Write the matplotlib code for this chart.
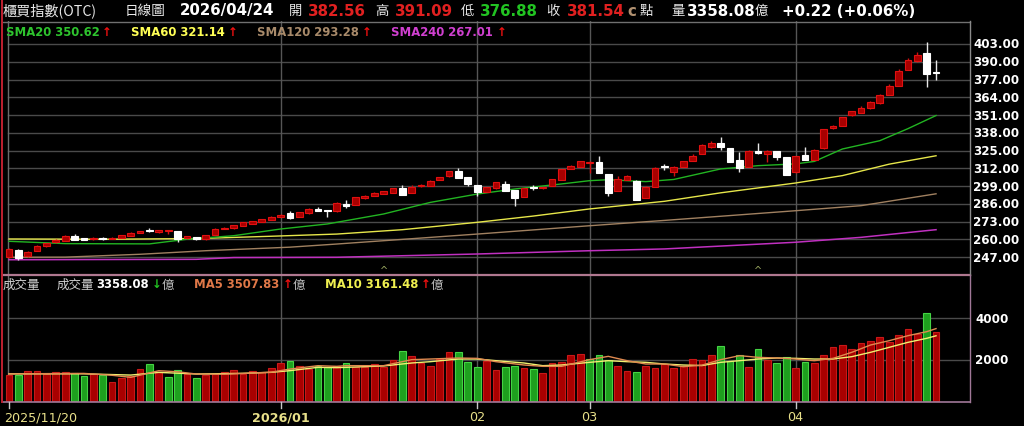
import matplotlib
matplotlib.use("Agg")
import matplotlib.pyplot as plt
import numpy as np

# ---------------- data ----------------
month_ticks = [0, 29, 50, 62, 84]
month_labels = ["2025/11/20", "2026/01", "02", "03", "04"]

opens = [246.8, 252.1, 247.5, 251.6, 254.8, 257.8, 259.0, 262.2, 260.2, 259.9,
         260.9, 260.3, 261.0, 262.6, 264.7, 266.3, 265.0, 265.7, 265.8, 260.6,
         261.5, 260.0, 263.1, 267.6, 268.0, 270.0, 271.5, 272.7, 274.3, 276.5,
         279.0, 276.3, 279.0, 282.0, 281.0, 280.5, 285.5, 285.3, 290.0, 292.0,
         293.1, 293.9, 297.5, 294.0, 298.7, 299.2, 303.6, 306.1, 309.8, 305.4,
         299.7, 294.9, 297.3, 300.5, 296.1, 291.2, 297.8, 297.2, 299.2, 303.6,
         311.5, 313.1, 316.0, 316.8, 307.8, 295.6, 303.5, 302.9, 290.2, 298.5,
         313.0, 309.5, 313.1, 317.5, 322.4, 327.3, 330.3, 326.8, 318.0, 313.1,
         324.0, 322.4, 324.4, 320.0, 309.0, 321.7, 318.3, 326.6, 341.3, 343.2,
         350.9, 352.5, 355.9, 359.6, 365.9, 372.5, 384.0, 390.3, 396.2, 382.56]
closes = [252.9, 246.1, 250.9, 255.3, 257.0, 259.5, 262.6, 259.7, 259.7, 260.8,
          260.2, 261.2, 263.0, 264.6, 266.0, 265.8, 266.5, 266.1, 260.2, 262.2,
          260.0, 263.0, 267.5, 268.6, 270.4, 272.3, 273.3, 274.8, 276.5, 278.0,
          275.4, 280.0, 282.2, 281.0, 280.5, 286.8, 284.3, 290.7, 292.0, 294.0,
          295.3, 297.5, 292.4, 298.5, 300.0, 302.9, 305.6, 310.0, 304.9, 300.5,
          294.4, 298.3, 301.7, 295.7, 290.2, 297.5, 297.2, 297.9, 304.1, 311.5,
          313.9, 317.3, 316.5, 308.5, 293.7, 304.1, 306.0, 288.7, 298.0, 312.5,
          312.7, 313.1, 317.0, 321.2, 329.3, 330.3, 327.3, 316.8, 312.4, 324.9,
          323.5, 324.8, 320.0, 307.3, 320.8, 318.0, 325.6, 340.7, 343.2, 349.3,
          353.6, 356.4, 360.3, 365.9, 372.5, 383.5, 391.5, 394.9, 381.32, 381.54]
highs = [253.5, 252.8, 251.3, 255.8, 257.4, 259.9, 263.0, 263.8, 261.0, 261.3,
         261.5, 261.6, 263.3, 265.0, 266.4, 268.0, 266.8, 266.6, 266.3, 262.6,
         262.0, 263.3, 267.9, 269.0, 270.8, 272.6, 273.6, 275.1, 276.8, 278.4,
         280.9, 280.3, 282.6, 283.4, 281.3, 287.2, 289.0, 291.0, 292.3, 294.3,
         295.6, 297.8, 299.7, 300.0, 300.3, 303.2, 305.9, 310.3, 312.2, 305.7,
         300.0, 298.6, 302.0, 302.9, 296.4, 297.8, 299.5, 298.2, 304.4, 311.8,
         314.2, 317.6, 317.0, 321.2, 308.1, 306.3, 307.2, 303.2, 299.0, 313.0,
         315.0, 313.4, 317.3, 322.2, 329.6, 332.2, 334.7, 327.1, 324.1, 325.2,
         330.5, 325.1, 324.7, 320.3, 321.1, 327.3, 325.9, 341.0, 343.5, 349.6,
         353.9, 357.5, 361.5, 366.2, 374.0, 385.0, 392.5, 397.5, 404.7, 391.09]
lows = [246.0, 245.0, 247.0, 251.2, 254.5, 257.5, 258.7, 259.4, 259.2, 259.6,
        259.8, 260.0, 260.7, 262.3, 264.4, 265.5, 264.8, 263.8, 257.8, 260.3,
        259.5, 259.8, 262.9, 267.3, 267.8, 269.8, 271.3, 272.5, 274.0, 276.2,
        275.1, 276.0, 278.8, 280.6, 276.5, 280.2, 282.7, 285.0, 289.7, 291.7,
        292.8, 293.6, 292.1, 293.7, 298.4, 299.0, 303.3, 305.8, 304.6, 299.2,
        292.0, 294.6, 297.0, 295.4, 284.6, 290.9, 296.0, 296.9, 298.9, 303.3,
        311.2, 312.8, 308.5, 308.2, 291.5, 295.3, 303.2, 288.4, 289.9, 298.2,
        311.0, 306.6, 312.8, 317.2, 322.1, 327.0, 325.4, 316.5, 309.5, 312.8,
        322.5, 316.8, 318.0, 307.0, 308.7, 317.7, 318.0, 326.3, 341.0, 342.9,
        350.6, 352.2, 355.6, 359.3, 365.6, 372.2, 383.7, 390.0, 371.7, 376.88]

volumes = [1263, 1263, 1473, 1440, 1311, 1424, 1424, 1344, 1199, 1311,
           1263, 940, 1118, 1199, 1553, 1779, 1424, 1166, 1505, 1311,
           1102, 1263, 1311, 1424, 1505, 1311, 1473, 1424, 1586, 1844,
           1940, 1682, 1553, 1714, 1634, 1682, 1828, 1666, 1666, 1795,
           1666, 2005, 2424, 2199, 1860, 1715, 2037, 2392, 2392, 1876,
           1634, 1956, 1521, 1666, 1715, 1602, 1553, 1376, 1860, 1892,
           2231, 2263, 2021, 2215, 2005, 1698, 1456, 1392, 1682, 1618,
           1795, 1602, 1682, 2021, 2005, 2231, 2667, 1940, 2215, 1666,
           2505, 2005, 1828, 2134, 1602, 1908, 1844, 2231, 2602, 2731,
           2505, 2796, 2908, 3102, 2844, 3183, 3506, 3247, 4262, 3358.08]
vol_up = [1, 0, 1, 1, 1, 1, 1, 0, 0, 1,
          0, 1, 1, 1, 1, 0, 1, 0, 0, 1,
          0, 1, 1, 1, 1, 1, 1, 1, 1, 1,
          0, 1, 1, 0, 0, 1, 0, 1, 1, 1,
          1, 1, 0, 1, 1, 1, 1, 1, 0, 0,
          0, 1, 1, 0, 0, 1, 0, 1, 1, 1,
          1, 1, 0, 0, 0, 1, 1, 0, 1, 1,
          1, 1, 1, 1, 1, 1, 0, 0, 0, 1,
          0, 1, 0, 0, 1, 0, 1, 1, 1, 1,
          1, 1, 1, 1, 1, 1, 1, 1, 0, 1]

sma20_idx = [0, 6, 15, 19, 24, 29, 34, 40, 45, 50, 54, 59, 62, 64, 68, 71, 76, 80, 84, 86, 89, 93, 96, 99]
sma20_val = [258.5, 256.8, 256.6, 260.0, 262.6, 267.5, 271.2, 278.5, 287.0, 293.1, 296.8, 300.5,
             302.9, 303.6, 302.2, 303.8, 311.5, 313.9, 315.2, 317.0, 326.1, 332.2, 341.0, 350.62]
sma60_idx = [0, 10, 20, 28, 35, 42, 50, 56, 62, 70, 76, 84, 89, 94, 99]
sma60_val = [260.2, 260.0, 260.5, 262.2, 263.8, 267.0, 272.4, 277.0, 282.2, 287.8, 294.0, 301.2, 306.6, 315.0, 321.14]
sma120_idx = [0, 6, 14, 21, 30, 35, 50, 62, 70, 84, 91, 99]
sma120_val = [246.8, 246.9, 249.0, 251.6, 254.2, 256.5, 263.8, 269.9, 273.8, 280.9, 284.6, 293.28]
sma240_idx = [0, 20, 24, 35, 50, 62, 70, 84, 91, 99]
sma240_val = [245.0, 245.3, 246.6, 246.8, 249.2, 251.6, 252.9, 257.8, 261.4, 267.01]

vma5_idx = [0, 4, 8, 11, 13, 16, 18, 20, 23, 25, 28, 30, 33, 35, 36, 40, 43, 45, 48, 50, 52, 55, 57, 59,
            62, 64, 66, 68, 70, 72, 74, 76, 78, 80, 82, 84, 86, 88, 90, 92, 94, 96, 98, 99]
vma5_val = [1310, 1330, 1340, 1250, 1150, 1470, 1420, 1310, 1300, 1340, 1400, 1550, 1714, 1682, 1715, 1715,
            2005, 2037, 2085, 2069, 1908, 1747, 1682, 1682, 2005, 2166, 1956, 1795, 1795, 1666, 1740, 2005,
            2199, 2118, 2085, 2037, 1956, 2069, 2360, 2715, 2925, 3166, 3360, 3507.83]
vma10_idx = [0, 8, 13, 16, 20, 25, 28, 30, 33, 35, 40, 43, 45, 48, 50, 52, 55, 57, 59, 62, 64, 66, 68, 70,
             72, 74, 76, 78, 80, 82, 84, 86, 88, 90, 92, 94, 96, 98, 99]
vma10_val = [1320, 1320, 1260, 1390, 1311, 1344, 1392, 1473, 1634, 1618, 1700, 1844, 1908, 2037, 2037, 1956,
             1844, 1715, 1747, 1876, 1956, 1908, 1876, 1795, 1747, 1720, 1876, 1956, 2037, 2085, 2069, 2037,
             2037, 2150, 2360, 2602, 2844, 3038, 3161.48]

price_ticks = [247, 260, 273, 286, 299, 312, 325, 338, 351, 364, 377, 390, 403]
vol_ticks = [2000, 4000]
event_marks = [40, 80]

# ---------------- layout helpers ----------------
W, H = 1024, 427
fig = plt.figure(figsize=(W / 100, H / 100), dpi=100, facecolor="black")
CJK = ["Noto Sans CJK TC", "DejaVu Sans"]


def fx(x):
    return x / W


def fy(y):
    return 1 - y / H


def T(x, y, s, color, size, weight="normal", family=None, ha="left"):
    fig.text(fx(x), fy(y), s, color=color, fontsize=size, fontweight=weight,
             ha=ha, va="center", family=family if family else "DejaVu Sans")


STEP = 9.364
X0 = 9.0


def i_of(px):
    return (px - X0) / STEP


def p_of_y(y):
    return 403 - (y - 45) / 1.3654


def v_of_y(y):
    return (402.1 - y) * 48.4


n = len(closes)
idx = np.arange(n)
o = np.array(opens)
c = np.array(closes)
hi = np.array(highs)
lo = np.array(lows)
up = c >= o

# ---------------- price panel ----------------
axp = fig.add_axes([fx(3), fy(276), fx(970) - fx(3), fy(22) - fy(276)])
axp.set_facecolor("black")
axp.set_xlim(i_of(3), i_of(970))
axp.set_ylim(p_of_y(276), p_of_y(22))
for s in axp.spines.values():
    s.set_visible(False)
axp.set_xticks([])
axp.set_yticks([])

xmin_frac = (i_of(8) - i_of(3)) / (i_of(970) - i_of(3))
for t in price_ticks:
    axp.axhline(t, xmin=xmin_frac, color="#4a4a4a", lw=1.0, zorder=1)
for m in month_ticks[1:]:
    axp.axvline(m, color="#565656", lw=1.0, zorder=1)
axp.axvline(i_of(8), color="#6a6a6a", lw=1.0, zorder=1)

axp.plot(sma240_idx, sma240_val, color="#c030c0", lw=1.1, zorder=2)
axp.plot(sma120_idx, sma120_val, color="#a08060", lw=1.0, zorder=2)
axp.plot(sma60_idx, sma60_val, color="#e6e64a", lw=1.0, zorder=2)
axp.plot(sma20_idx, sma20_val, color="#22b422", lw=1.0, zorder=2)

wick_col = np.where(up, "#d01010", "#e8e8e8")
axp.vlines(idx, lo, hi, colors=wick_col, lw=1.0, zorder=3)
body_bot = np.minimum(o, c)
body_h = np.maximum(np.abs(c - o), 0.9)
axp.bar(idx[up], body_h[up], bottom=body_bot[up], width=0.72,
        color="#a80000", edgecolor="#e01010", lw=0.8, zorder=4)
axp.bar(idx[~up], body_h[~up], bottom=body_bot[~up], width=0.72,
        color="#ffffff", edgecolor="#ffffff", lw=0.8, zorder=4)

for e in event_marks:
    axp.text(e, p_of_y(271), "^", color="#9aa860", fontsize=7, ha="center", va="center")

# ---------------- volume panel ----------------
axv = fig.add_axes([fx(3), fy(403), fx(970) - fx(3), fy(276) - fy(403)])
axv.set_facecolor("black")
axv.set_xlim(i_of(3), i_of(970))
axv.set_ylim(v_of_y(403), v_of_y(276))
for s in axv.spines.values():
    s.set_visible(False)
axv.set_xticks([])
axv.set_yticks([])
for t in vol_ticks:
    axv.axhline(t, xmin=xmin_frac, color="#4a4a4a", lw=1.0, zorder=1)
for m in month_ticks[1:]:
    axv.axvline(m, color="#565656", lw=1.0, zorder=1)
axv.axvline(i_of(8), color="#6a6a6a", lw=1.0, zorder=1)

vu = np.array(vol_up, dtype=bool)
vol = np.array(volumes)
axv.bar(idx[vu], vol[vu], width=0.72, color="#a80000", edgecolor="#c81818", lw=0.8, zorder=2)
axv.bar(idx[~vu], vol[~vu], width=0.72, color="#1ea01e", edgecolor="#44d444", lw=0.8, zorder=2)
axv.plot(vma10_idx, vma10_val, color="#f0f070", lw=1.0, zorder=3)
axv.plot(vma5_idx, vma5_val, color="#e08a50", lw=1.0, zorder=3)


# ---------------- frame lines ----------------
def fline(x1, y1, x2, y2, color, lw=1.0):
    fig.add_artist(plt.Line2D([fx(x1), fx(x2)], [fy(y1), fy(y2)], color=color, lw=lw))


fline(3, 22.5, 970, 22.5, "#707070")
fline(3, 275.5, 970, 275.5, "#b07890", 1.6)
fline(3, 402.8, 970, 402.8, "#a07898", 1.2)
fline(969.5, 22, 969.5, 276, "#8a8a8a")
fline(969.5, 276, 969.5, 403, "#a07898")
fline(2, 0, 2, 403, "#c02030", 1.4)
for m, lab in zip(month_ticks, month_labels):
    xp = X0 + STEP * m
    fline(xp, 403, xp, 409, "#c8c8c8", 1.0)

# ---------------- texts ----------------
# header
T(3, 11, "櫃買指數(OTC)", "#e8e8e8", 10.2, family=CJK)
T(125, 11, "日線圖", "#e8e8e8", 9.8, family=CJK)
T(180, 11, "2026/04/24", "#ffffff", 10.8, "bold")
T(289, 11, "開", "#e8e8e8", 9.6, family=CJK)
T(308, 11, "382.56", "#e02020", 10.8, "bold")
T(375, 11, "高", "#e8e8e8", 9.6, family=CJK)
T(395, 11, "391.09", "#e02020", 10.8, "bold")
T(461, 11, "低", "#e8e8e8", 9.6, family=CJK)
T(480, 11, "376.88", "#22c422", 10.8, "bold")
T(546, 11, "收", "#e8e8e8", 9.6, family=CJK)
T(567, 11, "381.54", "#e02020", 10.8, "bold")
T(627, 11, "c", "#b09070", 10.8, "bold")
T(640, 11, "點", "#e8e8e8", 9.6, family=CJK)
T(671, 11, "量", "#e8e8e8", 9.6, family=CJK)
T(687, 11, "3358.08", "#ffffff", 10.8, "bold")
T(755, 11, "億", "#e8e8e8", 9.6, family=CJK)
T(782, 11, "+0.22 (+0.06%)", "#ffffff", 10.8, "bold")

# SMA legend
T(6, 32, "SMA20 350.62", "#2ec42e", 8.4, "bold")
T(102, 32, "↑", "#f01010", 8.4, "bold")
T(131, 32, "SMA60 321.14", "#ffff55", 8.4, "bold")
T(228, 32, "↑", "#f01010", 8.4, "bold")
T(257, 32, "SMA120 293.28", "#a88a6a", 8.4, "bold")
T(362, 32, "↑", "#f01010", 8.4, "bold")
T(391, 32, "SMA240 267.01", "#d040d0", 8.4, "bold")
T(497, 32, "↑", "#f01010", 8.4, "bold")

# volume header
T(3, 285, "成交量", "#d0d0d0", 9, family=CJK)
T(57, 285, "成交量", "#d0d0d0", 9, family=CJK)
T(96, 285, "3358.08", "#ffffff", 8.4, "bold")
T(152, 285, "↓", "#22c422", 8.4, "bold")
T(162, 285, "億", "#c0c0c0", 9, family=CJK)
T(194, 285, "MA5 3507.83", "#e07848", 8.4, "bold")
T(283, 285, "↑", "#f01010", 8.4, "bold")
T(293, 285, "億", "#c0c0c0", 9, family=CJK)
T(325, 285, "MA10 3161.48", "#f0f050", 8.4, "bold")
T(421, 285, "↑", "#f01010", 8.4, "bold")
T(431, 285, "億", "#c0c0c0", 9, family=CJK)

# y labels
for t in price_ticks:
    yp = 45 + (403 - t) * 1.3654
    T(973, yp, f"{t:.2f}", "#ffffff", 8.6, "bold")
for t in vol_ticks:
    yp = 402.1 - t / 48.4
    T(975, yp, f"{t}", "#ffffff", 8.6, "bold")

# x labels
for m, lab in zip(month_ticks, month_labels):
    xp = X0 + STEP * m
    if m == 0:
        T(4, 418, lab, "#e8e08a", 9.2)
    elif lab.startswith("2026"):
        T(xp, 418, lab, "#e8e08a", 9.2, "bold", ha="center")
    else:
        T(xp, 418, lab, "#e8e08a", 9.2, ha="center")

fig.savefig("out.png", dpi=100, facecolor="black")
